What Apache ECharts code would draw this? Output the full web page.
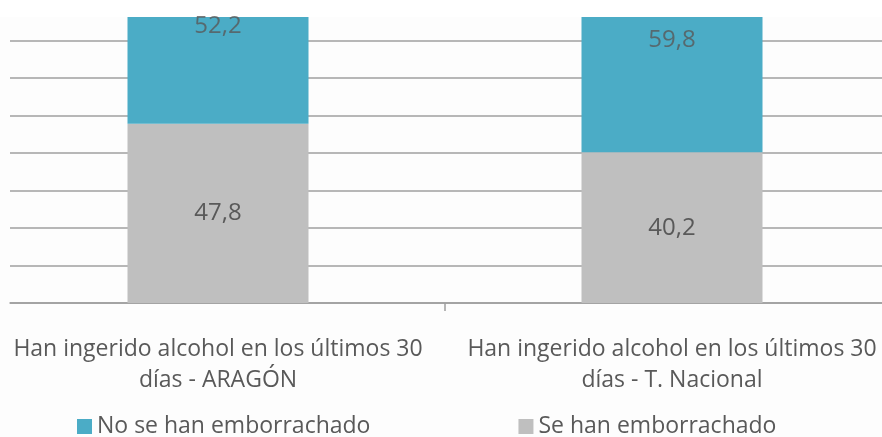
<!DOCTYPE html>
<html>
<head>
<meta charset="utf-8">
<script src="https://cdn.jsdelivr.net/npm/echarts@6/dist/echarts.min.js"></script>
<style>
    html, body { margin: 0; padding: 0; }
    #wrap {
        position: relative;
        width: 882px;
        height: 437px;
        overflow: hidden;
        background: linear-gradient(to bottom, #ffffff 0, #ffffff 17px, #fdfdfd 17px);
    }
    #chart {
        position: absolute;
        left: -9px;
        top: 0;
        width: 908px;
        height: 437px;
    }
</style>
</head>
<body>
<div id="wrap"><div id="chart"></div></div>
<script>
const categories = [
    'Han ingerido alcohol en los últimos 30\ndías - ARAGÓN',
    'Han ingerido alcohol en los últimos 30\ndías - T. Nacional'
]
const seHan = [47.8, 40.2]
const noSeHan = [52.2, 59.8]
const seriesNames = ['No se han emborrachado', 'Se han emborrachado']

// el recorte original corta el eje en ~76
const yMax = 76.3

const fmt = v => String(v).replace('.', ',')
const textColor = '#595959'
const lineColor = '#9f9f9f'

const myChart = echarts.init(document.getElementById('chart'))

const option = {
    animation: false,
    legend: {
        data: seriesNames,
        left: 81,
        top: 410,
        itemWidth: 15,
        itemHeight: 15,
        itemGap: 148,
        icon: 'rect',
        textStyle: { fontFamily: 'Open Sans', fontSize: 23, color: textColor }
    },
    grid: [
        { left: 19, right: 17, top: 17, bottom: 134 },
        { left: 0, right: 0, top: 17, bottom: 134 }
    ],
    xAxis: [
        {
            gridIndex: 0,
            type: 'value',
            min: 0,
            max: 1,
            axisLine: { show: true, lineStyle: { color: lineColor, width: 1.5 } },
            axisTick: { show: false },
            axisLabel: { show: false },
            splitLine: { show: false }
        },
        {
            gridIndex: 1,
            type: 'category',
            data: categories,
            axisLine: { show: false },
            axisTick: { show: true, length: 8, lineStyle: { color: lineColor, width: 1.5 } },
            axisLabel: {
                interval: 0,
                margin: 31,
                fontFamily: 'Open Sans',
                fontSize: 23,
                lineHeight: 31,
                color: textColor
            }
        }
    ],
    yAxis: [
        {
            gridIndex: 0,
            type: 'value',
            min: 0,
            max: yMax,
            interval: 10,
            axisLine: { show: false },
            axisTick: { show: false },
            axisLabel: { show: false },
            splitLine: { show: true, showMaxLine: false, lineStyle: { color: lineColor, width: 1.5 } }
        },
        {
            gridIndex: 1,
            type: 'value',
            min: 0,
            max: yMax,
            show: false
        }
    ],
    series: [
        {
            name: seriesNames[1],
            type: 'bar',
            xAxisIndex: 1,
            yAxisIndex: 1,
            stack: 'total',
            barWidth: 181,
            data: seHan,
            itemStyle: { color: '#bfbfbf' },
            label: {
                show: true,
                position: 'inside',
                formatter: p => fmt(p.value),
                fontFamily: 'Open Sans',
                fontSize: 24,
                color: textColor
            }
        },
        {
            name: seriesNames[0],
            type: 'bar',
            xAxisIndex: 1,
            yAxisIndex: 1,
            stack: 'total',
            barWidth: 181,
            data: noSeHan,
            itemStyle: { color: '#4bacc6' }
        },
        {
            // etiquetas del tramo azul, centradas en el tramo completo
            name: 'etiquetas',
            type: 'scatter',
            xAxisIndex: 1,
            yAxisIndex: 1,
            symbolSize: 0,
            silent: true,
            data: noSeHan.map((v, i) => ({ value: [i, seHan[i] + v / 2], raw: v })),
            label: {
                show: true,
                position: 'inside',
                formatter: p => fmt(p.data.raw),
                fontFamily: 'Open Sans',
                fontSize: 24,
                color: textColor
            }
        }
    ]
}

myChart.setOption(option)
</script>
</body>
</html>
